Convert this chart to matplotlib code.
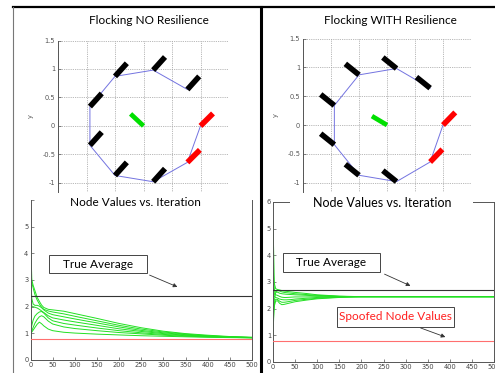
import numpy as np
import matplotlib
matplotlib.use("Agg")
import matplotlib.pyplot as plt
from matplotlib.lines import Line2D
from matplotlib.patches import Rectangle, FancyArrowPatch

#---------------------------------------------------------------
# two flocking snapshots (top) + node values vs iteration (bottom)
#---------------------------------------------------------------

W, H = 495, 373

# robot positions
node_x = [1.00, 0.77, 0.17, -0.50, -0.94, -0.94, -0.50, 0.17, 0.77]
node_y = [0.00, 0.64, 0.98, 0.87, 0.34, -0.34, -0.87, -0.98, -0.64]
node_color = ['red', 'black', 'black', 'black', 'black', 'black', 'black', 'black', 'red']
path_order = [1, 2, 3, 4, 5, 6, 7, 8, 0]   # no link between node 0 and node 1
# heading of each robot (degrees)
heading_no = [45, 48, 48, 48, 48, 48, 48, 48, 45]
heading_with = [45, 142, 142, 142, 142, 142, 142, 142, 45]
leader_heading_no = 137
leader_heading_with = 150

# node values vs iteration
iters = [0, 3, 6, 10, 15, 20, 25, 30, 40, 50, 75, 100, 150, 200, 250, 300, 350, 400, 450, 500]

nores_1 = [4.70, 3.00, 2.80, 2.60, 2.35, 2.20, 2.06, 1.97, 1.90, 1.88, 1.83, 1.74, 1.56, 1.37, 1.21, 1.08, 0.99, 0.93, 0.88, 0.85]
nores_2 = [3.60, 2.90, 2.70, 2.45, 2.25, 2.10, 1.98, 1.90, 1.84, 1.80, 1.73, 1.64, 1.47, 1.30, 1.16, 1.05, 0.97, 0.91, 0.87, 0.85]
nores_3 = [3.20, 2.30, 2.10, 2.05, 2.05, 2.02, 1.96, 1.88, 1.76, 1.70, 1.62, 1.54, 1.39, 1.24, 1.11, 1.02, 0.95, 0.90, 0.87, 0.84]
nores_4 = [2.90, 2.00, 2.00, 1.98, 1.95, 1.90, 1.84, 1.78, 1.66, 1.58, 1.50, 1.43, 1.30, 1.17, 1.07, 0.99, 0.93, 0.89, 0.86, 0.84]
nores_5 = [1.00, 1.30, 1.50, 1.65, 1.74, 1.80, 1.82, 1.76, 1.58, 1.47, 1.37, 1.31, 1.20, 1.10, 1.02, 0.96, 0.91, 0.88, 0.85, 0.84]
nores_6 = [1.00, 1.10, 1.22, 1.38, 1.52, 1.62, 1.66, 1.62, 1.46, 1.35, 1.24, 1.18, 1.10, 1.03, 0.98, 0.93, 0.89, 0.87, 0.85, 0.83]
nores_7 = [1.00, 1.05, 1.12, 1.22, 1.34, 1.42, 1.36, 1.28, 1.16, 1.10, 1.04, 1.01, 0.97, 0.94, 0.91, 0.89, 0.87, 0.85, 0.84, 0.83]

res_1 = [5.30, 2.95, 2.75, 2.72, 2.70, 2.68, 2.66, 2.65, 2.63, 2.61, 2.57, 2.52, 2.47, 2.45, 2.45, 2.45, 2.45, 2.45, 2.45, 2.45]
res_2 = [1.00, 2.30, 2.60, 2.68, 2.66, 2.63, 2.61, 2.60, 2.58, 2.56, 2.53, 2.50, 2.46, 2.45, 2.45, 2.45, 2.45, 2.45, 2.45, 2.45]
res_3 = [3.60, 2.70, 2.62, 2.62, 2.58, 2.56, 2.55, 2.54, 2.53, 2.52, 2.50, 2.48, 2.46, 2.45, 2.45, 2.45, 2.45, 2.45, 2.45, 2.45]
res_4 = [3.20, 2.55, 2.52, 2.50, 2.46, 2.43, 2.42, 2.42, 2.43, 2.44, 2.44, 2.45, 2.45, 2.45, 2.45, 2.45, 2.45, 2.45, 2.45, 2.45]
res_5 = [2.90, 2.45, 2.42, 2.40, 2.36, 2.34, 2.33, 2.33, 2.34, 2.36, 2.39, 2.42, 2.44, 2.45, 2.45, 2.45, 2.45, 2.45, 2.45, 2.45]
res_6 = [1.30, 2.20, 2.35, 2.35, 2.28, 2.24, 2.24, 2.25, 2.28, 2.31, 2.35, 2.39, 2.43, 2.45, 2.45, 2.45, 2.45, 2.45, 2.45, 2.45]
res_7 = [1.80, 2.10, 2.28, 2.30, 2.20, 2.15, 2.16, 2.18, 2.22, 2.26, 2.32, 2.37, 2.42, 2.45, 2.45, 2.45, 2.45, 2.45, 2.45, 2.45]

true_avg_no = 2.4
true_avg_with = 2.7
spoofed_value = 0.8

bar_len = 0.31
FONT = 'Lato'


def fig_box(x0, y0, x1, y1):
    # pixel box (y from the top) -> figure fraction rect
    return [x0 / W, 1 - y1 / H, (x1 - x0) / W, (y1 - y0) / H]


def fx(x):
    return x / W


def fy(y):
    return 1 - y / H


def flock_plot(ax, headings, leader_heading):
    xs = [node_x[i] for i in path_order]
    ys = [node_y[i] for i in path_order]
    ax.plot(xs, ys, color='#7373e0', lw=0.7, zorder=2)
    for x, y, h, c in zip(node_x, node_y, headings, node_color):
        col = '#ff0000' if c == 'red' else 'black'
        ax.plot([x, x + bar_len * np.cos(np.radians(h))],
                [y, y + bar_len * np.sin(np.radians(h))],
                color=col, lw=4.0, solid_capstyle='butt', zorder=3)
    ax.plot([0, bar_len * np.cos(np.radians(leader_heading))],
            [0, bar_len * np.sin(np.radians(leader_heading))],
            color='#00e000', lw=3.4, solid_capstyle='butt', zorder=3)
    ax.set_xlim(-1.5, 1.5)
    ax.set_ylim(-1.16, 1.5)
    ax.set_xticks(np.arange(-1.5, 1.51, 0.5))
    ax.set_yticks([-1, -0.5, 0, 0.5, 1, 1.5])
    ax.set_yticklabels(['-1', '-0.5', '0', '0.5', '1', '1.5'])
    ax.grid(True, color='#a0a0a0', linestyle=(0, (1, 1.2)), lw=0.6)
    for s in ['top', 'right', 'bottom']:
        ax.spines[s].set_visible(False)
    ax.spines['left'].set_color('#555555')
    ax.spines['left'].set_linewidth(0.7)
    ax.tick_params(axis='x', length=0, labelbottom=False)
    ax.tick_params(axis='y', direction='in', length=2, width=0.5, color='#555555',
                   labelsize=4.8, labelcolor='#555555', pad=2)
    ax.set_ylabel('y', fontsize=4.8, color='#555555', labelpad=6)


def values_plot(ax, curves, true_avg, show_top_label):
    for c in curves:
        ax.plot(iters, c, color='#22e022', lw=0.7, zorder=2)
    ax.axhline(true_avg, color='#333333', lw=0.8, zorder=3)
    ax.axhline(spoofed_value, color='#ff6f6f', lw=0.8, zorder=3)
    ax.set_xlim(0, 500)
    ax.set_ylim(0, 6)
    ax.set_xticks(range(0, 501, 50))
    ax.set_yticks(range(0, 7))
    if show_top_label:
        ax.set_yticklabels([str(i) for i in range(7)])
    else:
        ax.set_yticklabels([str(i) for i in range(6)] + [''])
    for s in ax.spines.values():
        s.set_color('#555555')
        s.set_linewidth(0.7)
    ax.tick_params(direction='in', length=2, width=0.5, color='#555555',
                   labelsize=4.8, labelcolor='#444444', pad=1.5)


fig = plt.figure(figsize=(W / 100, H / 100), dpi=100)

ax_tl = fig.add_axes(fig_box(58, 40.5, 229, 192))
ax_tr = fig.add_axes(fig_box(303, 38.5, 471, 192))
ax_bl = fig.add_axes(fig_box(30.5, 200, 252, 360))
ax_br = fig.add_axes(fig_box(273, 202, 494, 362))

flock_plot(ax_tl, heading_no, leader_heading_no)
flock_plot(ax_tr, heading_with, leader_heading_with)
values_plot(ax_bl, [nores_1, nores_2, nores_3, nores_4, nores_5, nores_6, nores_7], true_avg_no, False)
values_plot(ax_br, [res_1, res_2, res_3, res_4, res_5, res_6, res_7], true_avg_with, True)
ax_bl.spines['top'].set_visible(False)

# white strip behind the right lower title
fig.add_artist(Rectangle((fx(290), fy(210)), fx(473) - fx(290), fy(195) - fy(210),
                         transform=fig.transFigure, facecolor='white', edgecolor='none', zorder=5))

# titles
fig.text(fx(149), fy(20), 'Flocking NO Resilience', ha='center', va='center',
         fontsize=8.5, family=FONT, zorder=6)
fig.text(fx(390), fy(20), 'Flocking WITH Resilience', ha='center', va='center',
         fontsize=8.5, family=FONT, zorder=6)
fig.text(fx(135), fy(203), 'Node Values vs. Iteration', ha='center', va='center',
         fontsize=8.5, family=FONT, zorder=6)
fig.text(fx(382), fy(203), 'Node Values vs. Iteration', ha='center', va='center',
         fontsize=9, family=FONT, zorder=6)

# callout boxes with arrows
boxes = [
    ((49, 255, 147, 273), 'True Average', 'black', (147, 274), (180, 288)),
    ((283, 253, 380, 272), 'True Average', 'black', (382, 273), (413, 287)),
    ((337, 307, 454, 327), 'Spoofed Node Values', '#ff2020', (418, 327), (448, 338)),
]
for (x0, y0, x1, y1), label, tcol, a0, a1 in boxes:
    fig.add_artist(Rectangle((fx(x0), fy(y1)), fx(x1) - fx(x0), fy(y0) - fy(y1),
                             transform=fig.transFigure, facecolor='white',
                             edgecolor='#444444', lw=0.7, zorder=7))
    fig.text(fx((x0 + x1) / 2), fy((y0 + y1) / 2), label, ha='center', va='center',
             fontsize=8.5, family=FONT, color=tcol, zorder=8)
    fig.add_artist(FancyArrowPatch(
        (fx(a0[0]), fy(a0[1])), (fx(a1[0]), fy(a1[1])), transform=fig.transFigure,
        arrowstyle='-|>', mutation_scale=6, color='#333333', lw=0.6, zorder=8))

# frame lines of the composite
fig.add_artist(Line2D([fx(13), fx(495)], [fy(7), fy(7)], color='black', lw=1.6, zorder=9))
fig.add_artist(Line2D([fx(13), fx(13)], [fy(7), fy(373)], color='#777777', lw=0.8, zorder=9))
fig.add_artist(Line2D([fx(261), fx(261)], [fy(7), fy(373)], color='black', lw=2.2, zorder=9))

fig.savefig('out.png', dpi=100)
